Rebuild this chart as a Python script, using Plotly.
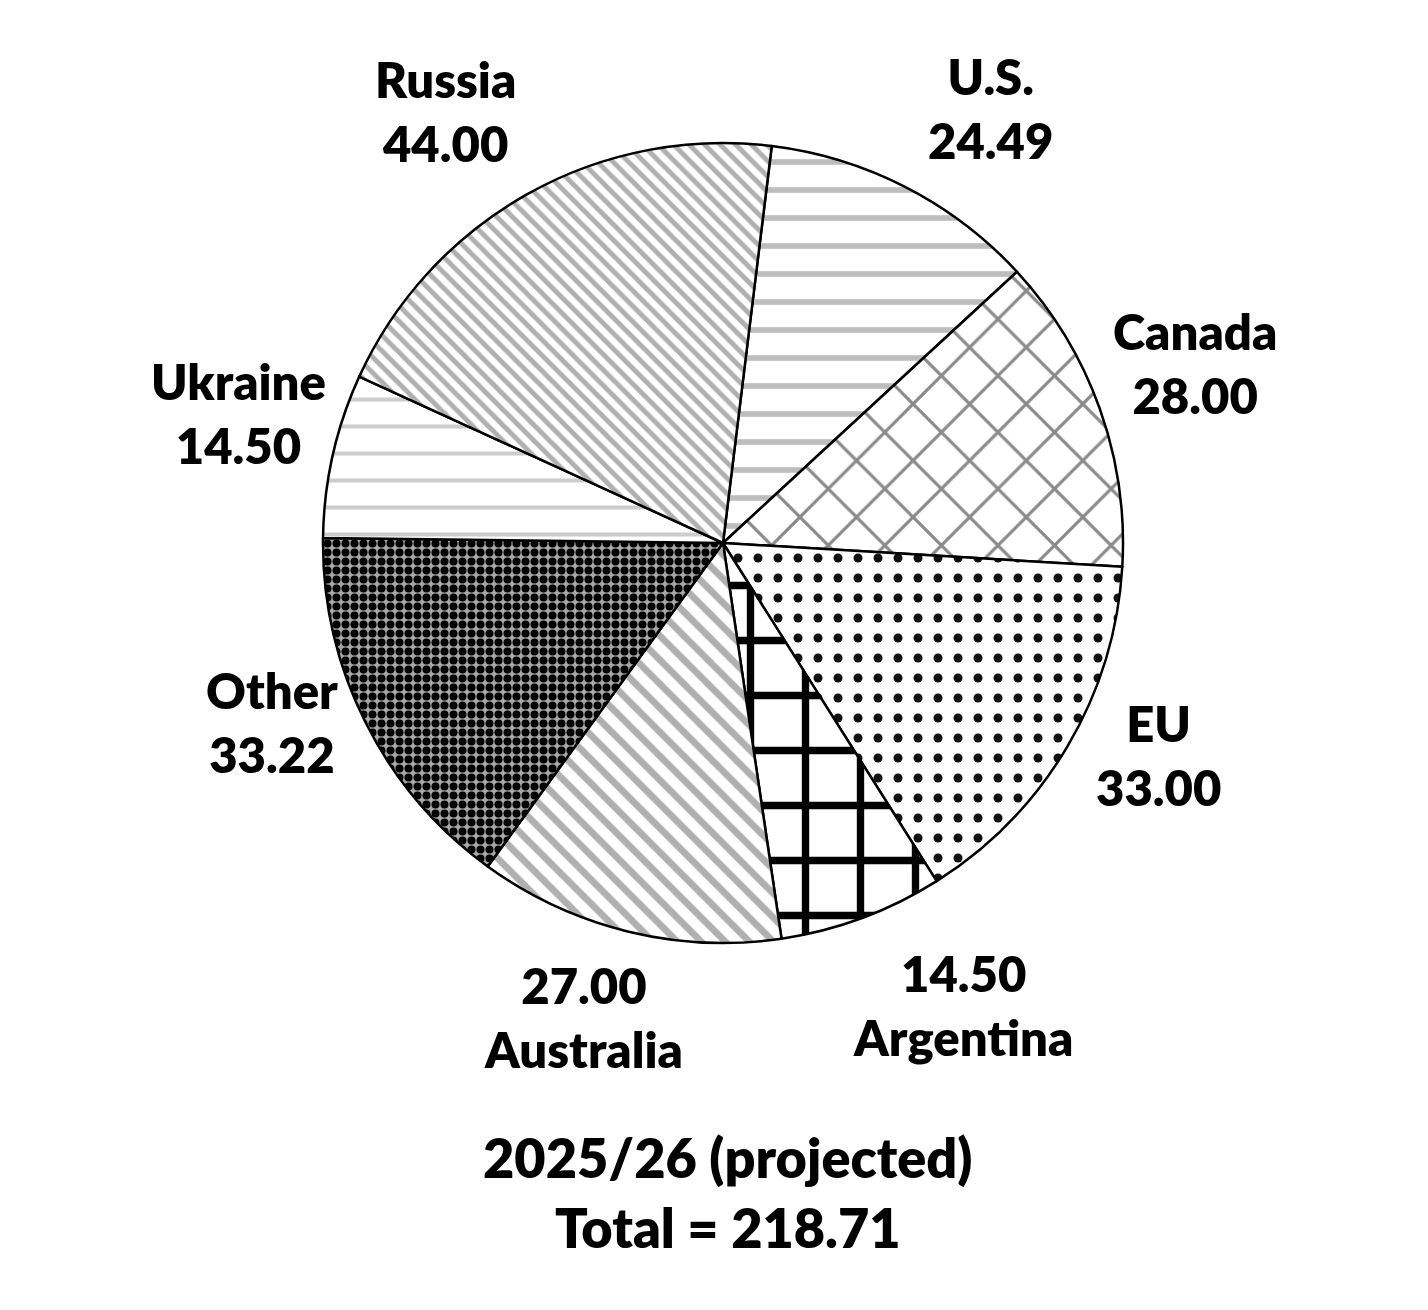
import plotly.graph_objects as go

# wheat exports 2025/26, million tonnes
countries = ["U.S.", "Canada", "EU", "Argentina", "Australia", "Other", "Ukraine", "Russia"]
exports = [24.49, 28.00, 33.00, 14.50, 27.00, 33.22, 14.50, 44.00]
total = 218.71
season = "2025/26 (projected)"

# fill pattern per slice (same order as countries)
shapes = ["-", "x", ".", "+", "\\", ".", "-", "\\"]
fg = ["#bdbdbd", "#8a8a8a", "#111111", "#000000", "#b0b0b0", "#000000", "#cccccc", "#b0b0b0"]
bg = ["white", "white", "white", "white", "white", "#a8a8a8", "white", "white"]
psize = [28, 40, 20, 55, 17, 9, 27, 11]
solid = [0.2, 0.15, 0.16, 0.25, 0.4, 0.62, 0.15, 0.45]

# label block centres (px, page coords) and whether the value goes first
label_xy = [(990, 108), (1195, 363), (1158, 755), (963, 1005),
            (583, 1017), (272, 722), (238, 413), (445, 111)]
value_first = [False, False, False, True, True, False, False, False]

W, H = 1428, 1310
off = 8  # page body margin
cx, cy, r = 723 - off, 543 - off, 400

fig = go.Figure(go.Pie(
    labels=countries,
    values=exports,
    sort=False,
    direction="clockwise",
    rotation=7,
    textinfo="none",
    hoverinfo="label+value",
    domain=dict(x=[(cx - r) / W, (cx + r) / W], y=[1 - (cy + r) / H, 1 - (cy - r) / H]),
    marker=dict(
        colors=["white"] * len(countries),
        line=dict(color="black", width=2.5),
        pattern=dict(shape=shapes, fgcolor=fg, bgcolor=bg, size=psize,
                     solidity=solid, fillmode="replace"),
    ),
    showlegend=False,
))

font = dict(family="Lato", size=49, color="black", weight=800)
for name, val, (x, y), vf in zip(countries, exports, label_xy, value_first):
    txt = f"{val:.2f}<br>{name}" if vf else f"{name}<br>{val:.2f}"
    fig.add_annotation(x=(x - off) / W, y=1 - (y - off) / H, xref="paper", yref="paper",
                       text=txt, showarrow=False, font=font,
                       xanchor="center", yanchor="middle", align="center")

fig.add_annotation(x=(728 - off) / W, y=1 - (1192 - off) / H, xref="paper", yref="paper",
                   text=f"{season}<br>Total = {total:.2f}", showarrow=False,
                   font=dict(family="Lato", size=54, color="black", weight=800),
                   xanchor="center", yanchor="middle", align="center")

fig.update_layout(width=W, height=H, margin=dict(l=0, r=0, t=0, b=0),
                  paper_bgcolor="white", plot_bgcolor="white")

fig.write_html("out.html")
